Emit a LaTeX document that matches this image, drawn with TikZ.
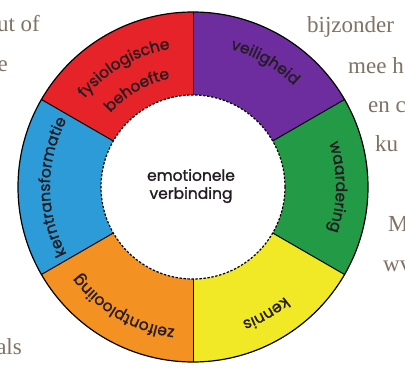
\documentclass[tikz,border=0pt]{standalone}
\usepackage{fontspec}
\setmainfont{Liberation Serif}
\newfontfamily\lbl{Poppins}[FakeBold=1.3]
\usetikzlibrary{decorations.text}
\definecolor{segred}{RGB}{230,35,40}
\definecolor{segpurple}{RGB}{110,45,158}
\definecolor{seggreen}{RGB}{35,155,70}
\definecolor{segyellow}{RGB}{242,233,38}
\definecolor{segorange}{RGB}{243,145,35}
\definecolor{segblue}{RGB}{45,155,215}
\definecolor{bgtext}{RGB}{128,114,100}
\definecolor{lbltext}{RGB}{35,28,35}
\begin{document}
\begin{tikzpicture}[x=1pt,y=1pt,
  divider/.style={draw=black, line width=1pt},
  bgword/.style={font=\fontsize{23}{23}\selectfont, text=bgtext, inner sep=0pt},
  ringlabel/.style={decorate, decoration={text along path, text align=center,
     text={|\lbl\fontsize{15.5}{16}\selectfont\color{lbltext}|#1}}}
]
\useasboundingbox (0,0) rectangle (405,370);
\fill[white] (0,0) rectangle (405,370);
\coordinate (c) at (193,183);
\def\Ro{175}
\def\Ri{92}
% segments
\foreach \a/\col in {150/segred,90/segpurple,30/seggreen,-30/segyellow,-90/segorange,-150/segblue}{
  \fill[\col] (c) -- ([shift={(\a:\Ro)}]c) arc[start angle=\a, end angle=\a-60, radius=\Ro] -- cycle;
}
% dividers
\foreach \a in {150,90,30,-30,-90,-150}{
  \draw[divider] ([shift={(\a:\Ri)}]c) -- ([shift={(\a:\Ro)}]c);
}
% outer border
\draw[line width=1.2pt] (c) circle[radius=\Ro];
% inner circle
\draw[fill=white, line width=1.2pt, dash pattern=on 2.4pt off 1.6pt] (c) circle[radius=\Ri];
% ring labels
\path[ringlabel=fysiologische] ([shift={(150:140)}]c) arc[start angle=150, end angle=90, radius=140];
\path[ringlabel=behoefte] ([shift={(150:111)}]c) arc[start angle=150, end angle=90, radius=111];
\path[ringlabel=veiligheid] ([shift={(90:143)}]c) arc[start angle=90, end angle=30, radius=143];
\path[ringlabel=waardering] ([shift={(30:143)}]c) arc[start angle=30, end angle=-30, radius=143];
\path[ringlabel=kennis] ([shift={(-30:143)}]c) arc[start angle=-30, end angle=-90, radius=143];
\path[ringlabel=zelfontplooiing] ([shift={(-90:143)}]c) arc[start angle=-90, end angle=-150, radius=143];
\path[ringlabel=kerntransformatie] ([shift={(210:143)}]c) arc[start angle=210, end angle=150, radius=143];
% centre text
\node[font=\lbl\fontsize{15.5}{18}\selectfont, text=lbltext, align=center, inner sep=0pt] (centre) at (191,184) {emotionele\\verbinding};
% background text
\node[bgword, anchor=base east] (t1) at (40,338) {ut of};
\node[bgword, anchor=base east] (t2) at (8,298) {e};
\node[bgword, anchor=base east] (t3) at (22,15) {als};
\node[bgword, anchor=base west] (t4) at (307,337) {bijzonder};
\node[bgword, anchor=base west] (t5) at (348,296) {mee h};
\node[bgword, anchor=base west] (t6) at (368,257) {en c};
\node[bgword, anchor=base west] (t7) at (375,218) {ku};
\node[bgword, anchor=base west] (t8) at (388,138) {M};
\node[bgword, anchor=base west] (t9) at (383,98) {wv};
\end{tikzpicture}
\end{document}
